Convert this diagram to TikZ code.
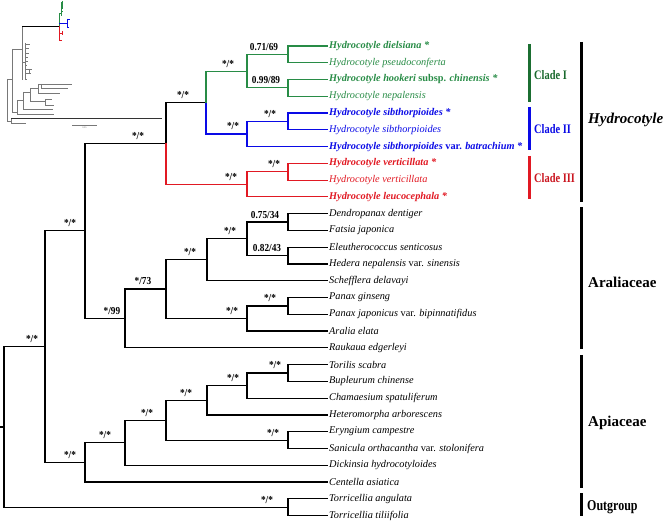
\documentclass[tikz,border=0pt]{standalone}
\usepackage{fontspec}
\usepackage{graphicx}
\setmainfont{Liberation Serif}
\definecolor{hgreen}{RGB}{40,140,70}
\definecolor{hblue}{RGB}{10,10,230}
\definecolor{hred}{RGB}{225,25,35}
\definecolor{cgreen}{RGB}{25,105,45}
\definecolor{minigray}{RGB}{120,120,120}
\newcommand{\supval}[1]{\scalebox{1}[1.15]{#1}}
\tikzset{
  br/.style={line width=1.2pt},
  sup/.style={font=\fontsize{9.3}{11}\selectfont\bfseries, inner sep=0pt, anchor=base},
  tip/.style={font=\fontsize{10.3}{12}\selectfont\itshape, anchor=west, inner sep=1pt},
  barline/.style={line width=3pt},
  grp/.style={font=\fontsize{15}{18}\selectfont\bfseries, anchor=west, inner sep=0pt},
  cladelab/.style={font=\fontsize{13}{15}\selectfont\bfseries, anchor=west, inner sep=0pt},
  mini/.style={line width=0.6pt, minigray},
}
\begin{document}
\begin{tikzpicture}[x=1pt,y=-1pt]
\useasboundingbox (0,0) rectangle (669,526);

% ---------- inset (overview tree) ----------
\draw[mini] (7,79) -- (7,121);
\draw[mini] (7,79) -- (12,79);
\draw[mini] (12,49) -- (12,112);
\draw[mini] (12,49) -- (22,49);
\draw[mini] (22,26) -- (22,80);
\draw[line width=0.9pt, black] (22,26) -- (59,26);
\draw[mini] (22,62) -- (25,62);
\draw[mini] (25,43) -- (25,79);
\foreach \yy/\xx in {44/30,48/29,53/29,57/28,61/28,65/27,69/32,73/31,79/27}{\draw[mini] (25,\yy) -- (\xx,\yy);}
\draw[mini] (29,69) -- (29,73);
% Apiaceae in inset
\draw[mini] (12,112) -- (17,112);
\draw[mini] (17,100) -- (17,114);
\draw[mini] (17,114) -- (54,114);
\draw[mini] (17,100) -- (23,100);
\draw[mini] (23,92) -- (23,109);
\draw[mini] (23,109) -- (53,109);
\draw[mini] (23,92) -- (30,92);
\draw[mini] (30,88) -- (30,101);
\draw[mini] (30,101) -- (45,101);
\draw[mini] (45,99) -- (45,105);
\draw[mini] (45,99) -- (52,99);
\draw[mini] (45,105) -- (54,105);
\draw[mini] (30,88) -- (38,88);
\draw[mini] (38,84) -- (38,93);
\draw[mini] (38,93) -- (60,93);
\draw[mini] (38,84) -- (41,84);
\draw[mini] (41,84) -- (72,84);
\draw[mini] (41,84) -- (41,88);
\draw[mini] (41,88) -- (68,88);
% outgroup in inset
\draw[mini] (7,121) -- (11,121);
\draw[mini] (11,118) -- (11,123);
\draw[line width=0.6pt, black!80] (11,118) -- (162,118);
\draw[mini] (11,123) -- (26,123);
\draw[mini] (72,125) -- (97,125);
\node[font=\fontsize{2.5}{3}\selectfont, text=minigray, inner sep=0pt] (scl) at (84.5,128) {0.05};
% Hydrocotyle in inset
\draw[line width=0.6pt, hgreen] (59,26) -- (59,13) -- (61,13);
\draw[line width=0.6pt, hgreen] (61,2) -- (61,16);
\draw[line width=0.6pt, hgreen] (61,3) -- (63,3);
\draw[line width=0.6pt, hgreen] (62.5,1) -- (62.5,9);
\draw[line width=0.6pt, hgreen] (61,11) -- (63,11);
\draw[line width=0.6pt, hblue] (59,23) -- (67,23);
\draw[line width=0.6pt, hblue] (67,19) -- (67,27);
\draw[line width=0.6pt, hblue] (67,19) -- (70,19);
\draw[line width=0.6pt, hblue] (67,27) -- (69,27);
\draw[line width=0.6pt, hred] (59,26) -- (59,40) -- (62,40);
\draw[line width=0.6pt, hred] (59,33) -- (62,33);
\draw[line width=0.6pt, hred] (62,31) -- (62,35);

% ---------- tips ----------
\node[tip, text=hgreen] (t1) at (328,46.0) {\bfseries Hydrocotyle dielsiana *};
\node[tip, text=hgreen] (t2) at (328,62.8) {Hydrocotyle pseudoconferta};
\node[tip, text=hgreen] (t3) at (328,79.5) {\bfseries Hydrocotyle hookeri \textup{subsp.} chinensis *};
\node[tip, text=hgreen] (t4) at (328,96.3) {Hydrocotyle nepalensis};
\node[tip, text=hblue] (t5) at (328,113.1) {\bfseries Hydrocotyle sibthorpioides *};
\node[tip, text=hblue] (t6) at (328,129.9) {Hydrocotyle sibthorpioides};
\node[tip, text=hblue] (t7) at (328,146.6) {\bfseries Hydrocotyle sibthorpioides \textup{var.} batrachium *};
\node[tip, text=hred] (t8) at (328,163.4) {\bfseries Hydrocotyle verticillata *};
\node[tip, text=hred] (t9) at (328,180.2) {Hydrocotyle verticillata};
\node[tip, text=hred] (t10) at (328,196.9) {\bfseries Hydrocotyle leucocephala *};
\node[tip] (t11) at (328,213.7) {Dendropanax dentiger};
\node[tip] (t12) at (328,230.5) {Fatsia japonica};
\node[tip] (t13) at (328,247.2) {Eleutherococcus senticosus};
\node[tip] (t14) at (328,264.0) {Hedera nepalensis \textup{var.} sinensis};
\node[tip] (t15) at (328,280.8) {Schefflera delavayi};
\node[tip] (t16) at (328,297.6) {Panax ginseng};
\node[tip] (t17) at (328,314.3) {Panax japonicus \textup{var.} bipinnatifidus};
\node[tip] (t18) at (328,331.1) {Aralia elata};
\node[tip] (t19) at (328,347.9) {Raukaua edgerleyi};
\node[tip] (t20) at (328,364.6) {Torilis scabra};
\node[tip] (t21) at (328,381.4) {Bupleurum chinense};
\node[tip] (t22) at (328,398.2) {Chamaesium spatuliferum};
\node[tip] (t23) at (328,414.9) {Heteromorpha arborescens};
\node[tip] (t24) at (328,431.7) {Eryngium campestre};
\node[tip] (t25) at (328,448.5) {Sanicula orthacantha \textup{var.} stolonifera};
\node[tip] (t26) at (328,465.3) {Dickinsia hydrocotyloides};
\node[tip] (t27) at (328,482.0) {Centella asiatica};
\node[tip] (t28) at (328,498.8) {Torricellia angulata};
\node[tip] (t29) at (328,515.6) {Torricellia tiliifolia};

% ---------- internal nodes ----------
\coordinate (h1a) at (288,54.4);
\coordinate (h1b) at (288,87.9);
\coordinate (c1) at (247,71.2);
\coordinate (h2a) at (288,121.5);
\coordinate (c2) at (247,134.0);
\coordinate (c12) at (206,102.6);
\coordinate (h3a) at (288,171.8);
\coordinate (c3) at (247,184.4);
\coordinate (hyd) at (166,143.5);
\coordinate (a4a) at (288,222.1);
\coordinate (a4b) at (288,255.6);
\coordinate (a3) at (247,238.9);
\coordinate (a2) at (207,259.4);
\coordinate (a6) at (288,306.0);
\coordinate (a5) at (247,318.5);
\coordinate (a1) at (166,289.0);
\coordinate (aral) at (125,318.4);
\coordinate (ha) at (85,230.7);
\coordinate (p6) at (288,373.0);
\coordinate (p5) at (247,385.6);
\coordinate (p4) at (207,400.3);
\coordinate (p7) at (288,440.1);
\coordinate (p3) at (166,420.2);
\coordinate (p2) at (125,442.8);
\coordinate (p1) at (85,462.4);
\coordinate (ing) at (45,346.6);
\coordinate (out) at (288,507.2);
\coordinate (root) at (4,426.9);
\coordinate (stub) at (0,426.9);

% ---------- branches ----------
\draw[br] (stub) -- (root);
\draw[br] (root) |- (ing);
\draw[br] (root) |- (out);
\draw[br] (ing) |- (ha);
\draw[br] (ing) |- (p1);
\draw[br] (ha) |- (hyd);
\draw[br] (ha) |- (aral);
\draw[br] (hyd) |- (c12);
\draw[br, hgreen] (c12) |- (c1);
\draw[br, hgreen] (c1) |- (h1a);
\draw[br, hgreen] (c1) |- (h1b);
\draw[br, hgreen] (h1a) |- (t1.west);
\draw[br, hgreen] (h1a) |- (t2.west);
\draw[br, hgreen] (h1b) |- (t3.west);
\draw[br, hgreen] (h1b) |- (t4.west);
\draw[br, hblue] (c12) |- (c2);
\draw[br, hblue] (c2) |- (h2a);
\draw[br, hblue] (h2a) |- (t5.west);
\draw[br, hblue] (h2a) |- (t6.west);
\draw[br, hblue] (c2) |- (t7.west);
\draw[br, hred] (hyd) |- (c3);
\draw[br, hred] (c3) |- (h3a);
\draw[br, hred] (h3a) |- (t8.west);
\draw[br, hred] (h3a) |- (t9.west);
\draw[br, hred] (c3) |- (t10.west);
\draw[br] (aral) |- (a1);
\draw[br] (aral) |- (t19.west);
\draw[br] (a1) |- (a2);
\draw[br] (a1) |- (a5);
\draw[br] (a2) |- (a3);
\draw[br] (a2) |- (t15.west);
\draw[br] (a3) |- (a4a);
\draw[br] (a3) |- (a4b);
\draw[br] (a4a) |- (t11.west);
\draw[br] (a4a) |- (t12.west);
\draw[br] (a4b) |- (t13.west);
\draw[br] (a4b) |- (t14.west);
\draw[br] (a5) |- (a6);
\draw[br] (a5) |- (t18.west);
\draw[br] (a6) |- (t16.west);
\draw[br] (a6) |- (t17.west);
\draw[br] (p1) |- (p2);
\draw[br] (p1) |- (t27.west);
\draw[br] (p2) |- (p3);
\draw[br] (p2) |- (t26.west);
\draw[br] (p3) |- (p4);
\draw[br] (p3) |- (p7);
\draw[br] (p4) |- (p5);
\draw[br] (p4) |- (t23.west);
\draw[br] (p5) |- (p6);
\draw[br] (p5) |- (t22.west);
\draw[br] (p6) |- (t20.west);
\draw[br] (p6) |- (t21.west);
\draw[br] (p7) |- (t24.west);
\draw[br] (p7) |- (t25.west);
\draw[br] (out) |- (t28.west);
\draw[br] (out) |- (t29.west);

% ---------- support values ----------
\node[sup] (s1) at (32,342.6) {\supval{*/*}};
\node[sup] (s2) at (70,226.7) {\supval{*/*}};
\node[sup] (s3) at (138,139.5) {\supval{*/*}};
\node[sup] (s4) at (183,98.6) {\supval{*/*}};
\node[sup] (s5) at (228,67.2) {\supval{*/*}};
\node[sup] (s6) at (264,50.4) {\supval{0.71/69}};
\node[sup] (s7) at (266,83.9) {\supval{0.99/89}};
\node[sup] (s8) at (233,130.0) {\supval{*/*}};
\node[sup] (s9) at (270,117.5) {\supval{*/*}};
\node[sup] (s10) at (231,180.4) {\supval{*/*}};
\node[sup] (s11) at (274,167.8) {\supval{*/*}};
\node[sup] (s12) at (112,314.4) {\supval{*/99}};
\node[sup] (s13) at (143,285.0) {\supval{*/73}};
\node[sup] (s14) at (190,255.4) {\supval{*/*}};
\node[sup] (s15) at (230,234.9) {\supval{*/*}};
\node[sup] (s16) at (265,218.1) {\supval{0.75/34}};
\node[sup] (s17) at (267,251.6) {\supval{0.82/43}};
\node[sup] (s18) at (232,314.5) {\supval{*/*}};
\node[sup] (s19) at (270,302.0) {\supval{*/*}};
\node[sup] (s20) at (70,458.4) {\supval{*/*}};
\node[sup] (s21) at (105,438.8) {\supval{*/*}};
\node[sup] (s22) at (147,416.2) {\supval{*/*}};
\node[sup] (s23) at (186,396.3) {\supval{*/*}};
\node[sup] (s24) at (233,381.6) {\supval{*/*}};
\node[sup] (s25) at (275,369.0) {\supval{*/*}};
\node[sup] (s26) at (273,436.1) {\supval{*/*}};
\node[sup] (s27) at (267,503.2) {\supval{*/*}};

% ---------- clade bars ----------
\coordinate (g1a) at (529,44);  \coordinate (g1b) at (529,102);
\coordinate (g2a) at (529,107); \coordinate (g2b) at (529,150);
\coordinate (g3a) at (529,156); \coordinate (g3b) at (529,199);
\draw[barline, cgreen!85!hgreen] (g1a) -- (g1b);
\draw[barline, hblue] (g2a) -- (g2b);
\draw[barline, hred] (g3a) -- (g3b);
\node[cladelab, text=cgreen] (cl1) at (534,75) {\scalebox{0.8}[1]{Clade I}};
\node[cladelab, text=hblue] (cl2) at (534,129) {\scalebox{0.8}[1]{Clade II}};
\node[cladelab, text=hred!90!black] (cl3) at (534,178) {\scalebox{0.8}[1]{Clade III}};

\coordinate (f1a) at (581,42);  \coordinate (f1b) at (581,202);
\coordinate (f2a) at (581,207); \coordinate (f2b) at (581,349);
\coordinate (f3a) at (581,355); \coordinate (f3b) at (581,488);
\coordinate (f4a) at (581,493); \coordinate (f4b) at (581,516);
\draw[barline] (f1a) -- (f1b);
\draw[barline] (f2a) -- (f2b);
\draw[barline] (f3a) -- (f3b);
\draw[barline] (f4a) -- (f4b);
\node[grp] (gH) at (588,120) {\itshape Hydrocotyle};
\node[grp] (gA) at (588,282) {Araliaceae};
\node[grp] (gP) at (588,423) {Apiaceae};
\node[grp] (gO) at (587,507) {\scalebox{0.8}[1]{Outgroup}};
\end{tikzpicture}
\end{document}
